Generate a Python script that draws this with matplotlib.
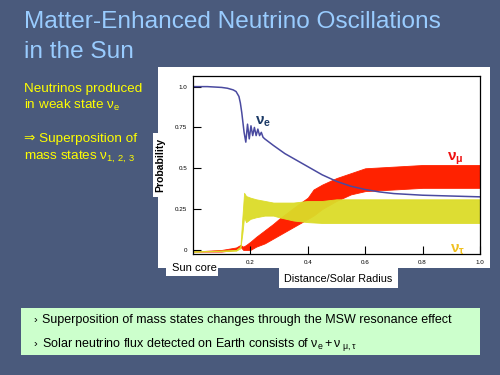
import numpy as np
import matplotlib.pyplot as plt
from matplotlib.patches import Rectangle

plt.rcParams['font.family'] = ['Liberation Sans', 'DejaVu Sans']
plt.rcParams['mathtext.fontset'] = 'custom'
plt.rcParams['mathtext.rm'] = 'Liberation Sans'
plt.rcParams['mathtext.it'] = 'Liberation Sans:italic'
plt.rcParams['mathtext.bf'] = 'Liberation Sans:bold'
plt.rcParams['mathtext.default'] = 'regular'

# nu_e survival probability
x_e = [0, 0.05, 0.10, 0.12, 0.14, 0.15, 0.16, 0.165, 0.17, 0.178, 0.184, 0.19,
       0.196, 0.202, 0.208, 0.214, 0.22, 0.226, 0.232, 0.238, 0.244, 0.25, 0.28,
       0.32, 0.36, 0.40, 0.45, 0.50, 0.55, 0.60, 0.65, 0.70, 0.80, 0.90, 1.0]
p_e = [1.0, 1.0, 0.995, 0.99, 0.98, 0.97, 0.94, 0.90, 0.84, 0.72, 0.66, 0.77,
       0.68, 0.76, 0.70, 0.75, 0.70, 0.74, 0.70, 0.72, 0.69, 0.68, 0.64,
       0.59, 0.55, 0.51, 0.46, 0.42, 0.39, 0.37, 0.355, 0.345, 0.335, 0.33, 0.325]

# nu_mu oscillation band (lower / upper envelope)
x_mu = [0, 0.10, 0.15, 0.165, 0.175, 0.185, 0.2, 0.22, 0.25, 0.28, 0.30, 0.33,
        0.36, 0.40, 0.42, 0.45, 0.50, 0.55, 0.60, 0.70, 0.80, 0.90, 1.0]
mu_lo = [-0.01, -0.01, 0.0, 0.02, 0.0, 0.0, 0.0, 0.02, 0.04, 0.07, 0.09, 0.12,
         0.15, 0.19, 0.21, 0.25, 0.30, 0.34, 0.36, 0.37, 0.38, 0.38, 0.38]
mu_hi = [-0.01, 0.0, 0.015, 0.03, 0.02, 0.03, 0.05, 0.08, 0.12, 0.16, 0.19, 0.23,
         0.27, 0.32, 0.37, 0.40, 0.44, 0.47, 0.50, 0.51, 0.52, 0.52, 0.52]

# nu_tau oscillation band (lower / upper envelope)
x_tau = [0, 0.15, 0.165, 0.172, 0.178, 0.185, 0.2, 0.22, 0.25, 0.28, 0.30, 0.35,
         0.40, 0.45, 0.50, 0.60, 0.70, 0.80, 1.0]
tau_lo = [-0.01, -0.005, 0.01, 0.10, 0.20, 0.17, 0.19, 0.20, 0.21, 0.21, 0.20, 0.18,
          0.17, 0.165, 0.165, 0.165, 0.165, 0.165, 0.165]
tau_hi = [-0.01, 0.0, 0.02, 0.20, 0.35, 0.33, 0.32, 0.31, 0.30, 0.29, 0.29, 0.29,
          0.30, 0.30, 0.31, 0.31, 0.31, 0.31, 0.31]

x_ticks = [0.2, 0.4, 0.6, 0.8, 1.0]
x_labels = ['0.2', '0.4', '0.6', '0.8', '1.0']
y_ticks = [0, 0.25, 0.5, 0.75, 1.0]
y_labels = ['0', '0.25', '0.5', '0.75', '1.0']

W, H = 500, 375
BG = '#4a5a7c'

fig = plt.figure(figsize=(5, 3.75), dpi=100, facecolor=BG)


def box(x0, y0, x1, y1, color):
    fig.add_artist(Rectangle((x0 / W, 1 - y1 / H), (x1 - x0) / W, (y1 - y0) / H,
                             transform=fig.transFigure, facecolor=color,
                             edgecolor='none', zorder=0))


def txt(x, y, s, **kw):
    fig.text(x / W, 1 - y / H, s, **kw)


# white panels behind the plot
box(158, 67, 490, 268, 'white')
box(153, 133, 160, 197, 'white')
box(166, 258, 218, 276, 'white')
box(279, 266, 398, 288, 'white')
# green note box
box(21, 308, 480, 355, '#ccffcc')

ax = fig.add_axes([193 / W, 1 - 254 / H, 287 / W, 178 / H], zorder=1)
ax.fill_between(x_mu, mu_lo, mu_hi, color='#ff2200', lw=0.6)
ax.fill_between(x_tau, tau_lo, tau_hi, color='#dcdc28', lw=0.6, alpha=0.95)
ax.plot(x_e, p_e, color='#4a4aa0', lw=1.1)

ax.set_xlim(0, 1.0)
ax.set_ylim(-0.025, 1.065)
ax.set_xticks(x_ticks)
ax.set_xticklabels(x_labels)
ax.set_yticks(y_ticks)
ax.set_yticklabels(y_labels)
ax.tick_params(direction='in', length=6, width=0.8, labelsize=4.5, pad=4)
for s in ax.spines.values():
    s.set_linewidth(0.9)

# curve labels
ax.text(0.215, 0.77, r'$\mathbf{\nu_e}$', color='#1c3a66', fontsize=11)
ax.text(0.885, 0.55, r'$\mathbf{\nu_\mu}$', color='#ee1111', fontsize=11)
ax.text(0.895, -0.015, r'$\mathbf{\nu_\tau}$', color='#f0c020', fontsize=11)

txt(160, 165, 'Probability', rotation=90, fontsize=7.5, fontweight='bold',
    ha='center', va='center')
txt(194, 268, 'Sun core', fontsize=8, ha='center', va='center')
txt(338, 279, 'Distance/Solar Radius', fontsize=7.8, ha='center', va='center')

# title
title_c = '#99ccff'
txt(24, 28, 'Matter-Enhanced Neutrino Oscillations', color=title_c, fontsize=17.6)
txt(24, 58, 'in the Sun', color=title_c, fontsize=17.6)

# left remarks
yel = '#ffff00'
txt(24, 92, 'Neutrinos produced', color=yel, fontsize=9.7)
txt(24, 109, r'in weak state $\nu_e$', color=yel, fontsize=9.7)
txt(24, 142, '\u21d2 Superposition of', color=yel, fontsize=9.7)
txt(24, 160, r'mass states $\nu_{1,\,2,\,3}$', color=yel, fontsize=9.7)

# bottom notes
txt(33, 323, '\u203a', fontsize=8)
txt(42, 323, 'Superposition of mass states changes through the MSW resonance effect',
    fontsize=9)
txt(33, 347, '\u203a', fontsize=8)
txt(42, 347, r'Solar neutrino flux detected on Earth consists of $\nu_e + \nu_{\ \mu,\tau}$',
    fontsize=9)

fig.savefig('out.png', dpi=100, facecolor=BG)
